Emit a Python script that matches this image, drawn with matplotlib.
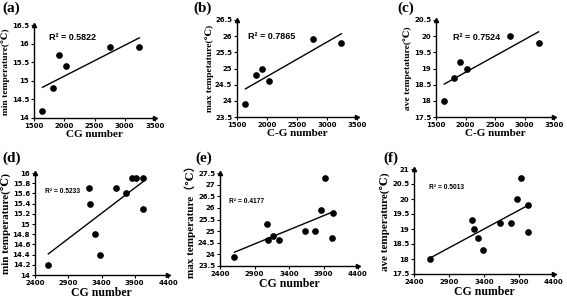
import numpy as np
import matplotlib.pyplot as plt

# top row: same CG numbers for all three panels
cg_top = [1640, 1810, 1910, 2030, 2760, 3240]
min_a = [14.2, 14.8, 15.7, 15.4, 15.9, 15.9]
max_b = [23.9, 24.8, 25.0, 24.6, 25.9, 25.8]
ave_c = [18.0, 18.7, 19.2, 19.0, 20.0, 19.8]

# bottom row
cg_d = [2600, 3205, 3220, 3295, 3375, 3615, 3765, 3860, 3915, 4030, 4025]
min_d = [14.2, 15.7, 15.4, 14.8, 14.4, 15.7, 15.6, 15.9, 15.9, 15.9, 15.3]
cg_e = [2610, 3085, 3100, 3165, 3250, 3625, 3775, 3870, 3925, 4035, 4030]
max_e = [23.9, 25.3, 24.6, 24.8, 24.6, 25.0, 25.0, 25.9, 27.3, 25.8, 24.7]
cg_f = [2630, 3230, 3250, 3310, 3390, 3630, 3780, 3875, 3925, 4030, 4025]
ave_f = [18.0, 19.3, 19.0, 18.7, 18.3, 19.2, 19.2, 20.0, 20.7, 19.8, 18.9]

W, H = 567, 299
serif = ['Liberation Serif', 'DejaVu Serif', 'Noto Sans CJK SC']

panels = [
    # label, x, y, (left, top, right, bottom px), xlim, xstep, ylim, ystep, ylabel, xlabel,
    # r2 text, r2 pos, r2 size, panel label pos, ylabel size, xlabel size
    ('(a)', cg_top, min_a, (34, 25, 155, 118), (1500, 3500), 500, (14, 16.5), 0.5,
     'min temperature(℃)', 'CG number', 'R² = 0.5822', (0.12, 0.84), 6.5, (2, 2), 6.8, 8),
    ('(b)', cg_top, max_b, (237, 20, 357, 117), (1500, 3500), 500, (23.5, 26.5), 0.5,
     'max tempetature(℃)', 'C-G number', 'R² = 0.7865', (0.09, 0.80), 6.5, (193, 2), 6.8, 8),
    ('(c)', cg_top, ave_c, (436, 20, 554, 117), (1500, 3500), 500, (17.5, 20.5), 0.5,
     'ave tempetature(℃)', 'C-G number', 'R² = 0.7524', (0.14, 0.79), 6.5, (397, 2), 6.8, 8),
    ('(d)', cg_d, min_d, (35, 173, 168, 275), (2400, 4400), 500, (14, 16), 0.2,
     'min temperature(℃)', 'CG number', 'R² = 0.5233', (0.075, 0.80), 4.8, (2, 152), 8, 8.5),
    ('(e)', cg_e, max_e, (220, 173, 358, 266), (2400, 4400), 500, (23.5, 27.5), 0.5,
     'max temperature（℃）', 'CG number', 'R² = 0.4177', (0.065, 0.68), 4.8, (195, 152), 8, 8.5),
    ('(f)', cg_f, ave_f, (414, 169, 554, 274), (2400, 4400), 500, (17.5, 21), 0.5,
     'ave temperature(℃)', 'CG number', 'R² = 0.5013', (0.11, 0.81), 4.8, (383, 152), 8, 8.5),
]

fig = plt.figure(figsize=(W / 100, H / 100), dpi=100)

for (lab, x, y, box, xlim, xstep, ylim, ystep, ylab, xlab, r2, r2pos, r2size, labpos,
     ysize, xsize) in panels:
    l, t, r, b = box
    ax = fig.add_axes([l / W, 1 - b / H, (r - l) / W, (b - t) / H])
    x = np.array(x, dtype=float)
    y = np.array(y, dtype=float)
    ax.plot(x, y, 'o', color='black', markersize=3.8)
    k, c = np.polyfit(x, y, 1)
    xx = np.array([x.min(), x.max()])
    ax.plot(xx, k * xx + c, color='black', linewidth=1)
    ax.set_xlim(*xlim)
    ax.set_ylim(*ylim)
    ax.set_xticks(np.arange(xlim[0], xlim[1] + 1, xstep))
    yt = np.arange(ylim[0], ylim[1] + ystep / 2, ystep)
    ax.set_yticks(yt)
    ax.set_yticklabels(['%g' % round(v, 1) for v in yt])
    for s in ['top', 'right']:
        ax.spines[s].set_visible(False)
    for s in ['left', 'bottom']:
        ax.spines[s].set_linewidth(1.0)
    ax.tick_params(labelsize=5, length=2, width=0.8, pad=1.5)
    for tl in ax.get_xticklabels() + ax.get_yticklabels():
        tl.set_fontweight('bold')
    ax.plot(1, 0, '>k', transform=ax.transAxes, clip_on=False, markersize=3)
    ax.plot(0, 1, '^k', transform=ax.transAxes, clip_on=False, markersize=3)
    ax.text(r2pos[0], r2pos[1], r2, transform=ax.transAxes, fontsize=r2size,
            fontweight='bold', family=['Liberation Sans', 'DejaVu Sans'])
    ax.set_ylabel(ylab, family=serif, fontweight='bold', fontsize=ysize, labelpad=1)
    ax.set_xlabel(xlab, family=serif, fontweight='bold', fontsize=xsize, labelpad=0.5)
    fig.text(labpos[0] / W, 1 - labpos[1] / H, lab, family=serif, fontweight='bold',
             fontsize=11, va='top', ha='left')

fig.savefig('out.png', dpi=100)
